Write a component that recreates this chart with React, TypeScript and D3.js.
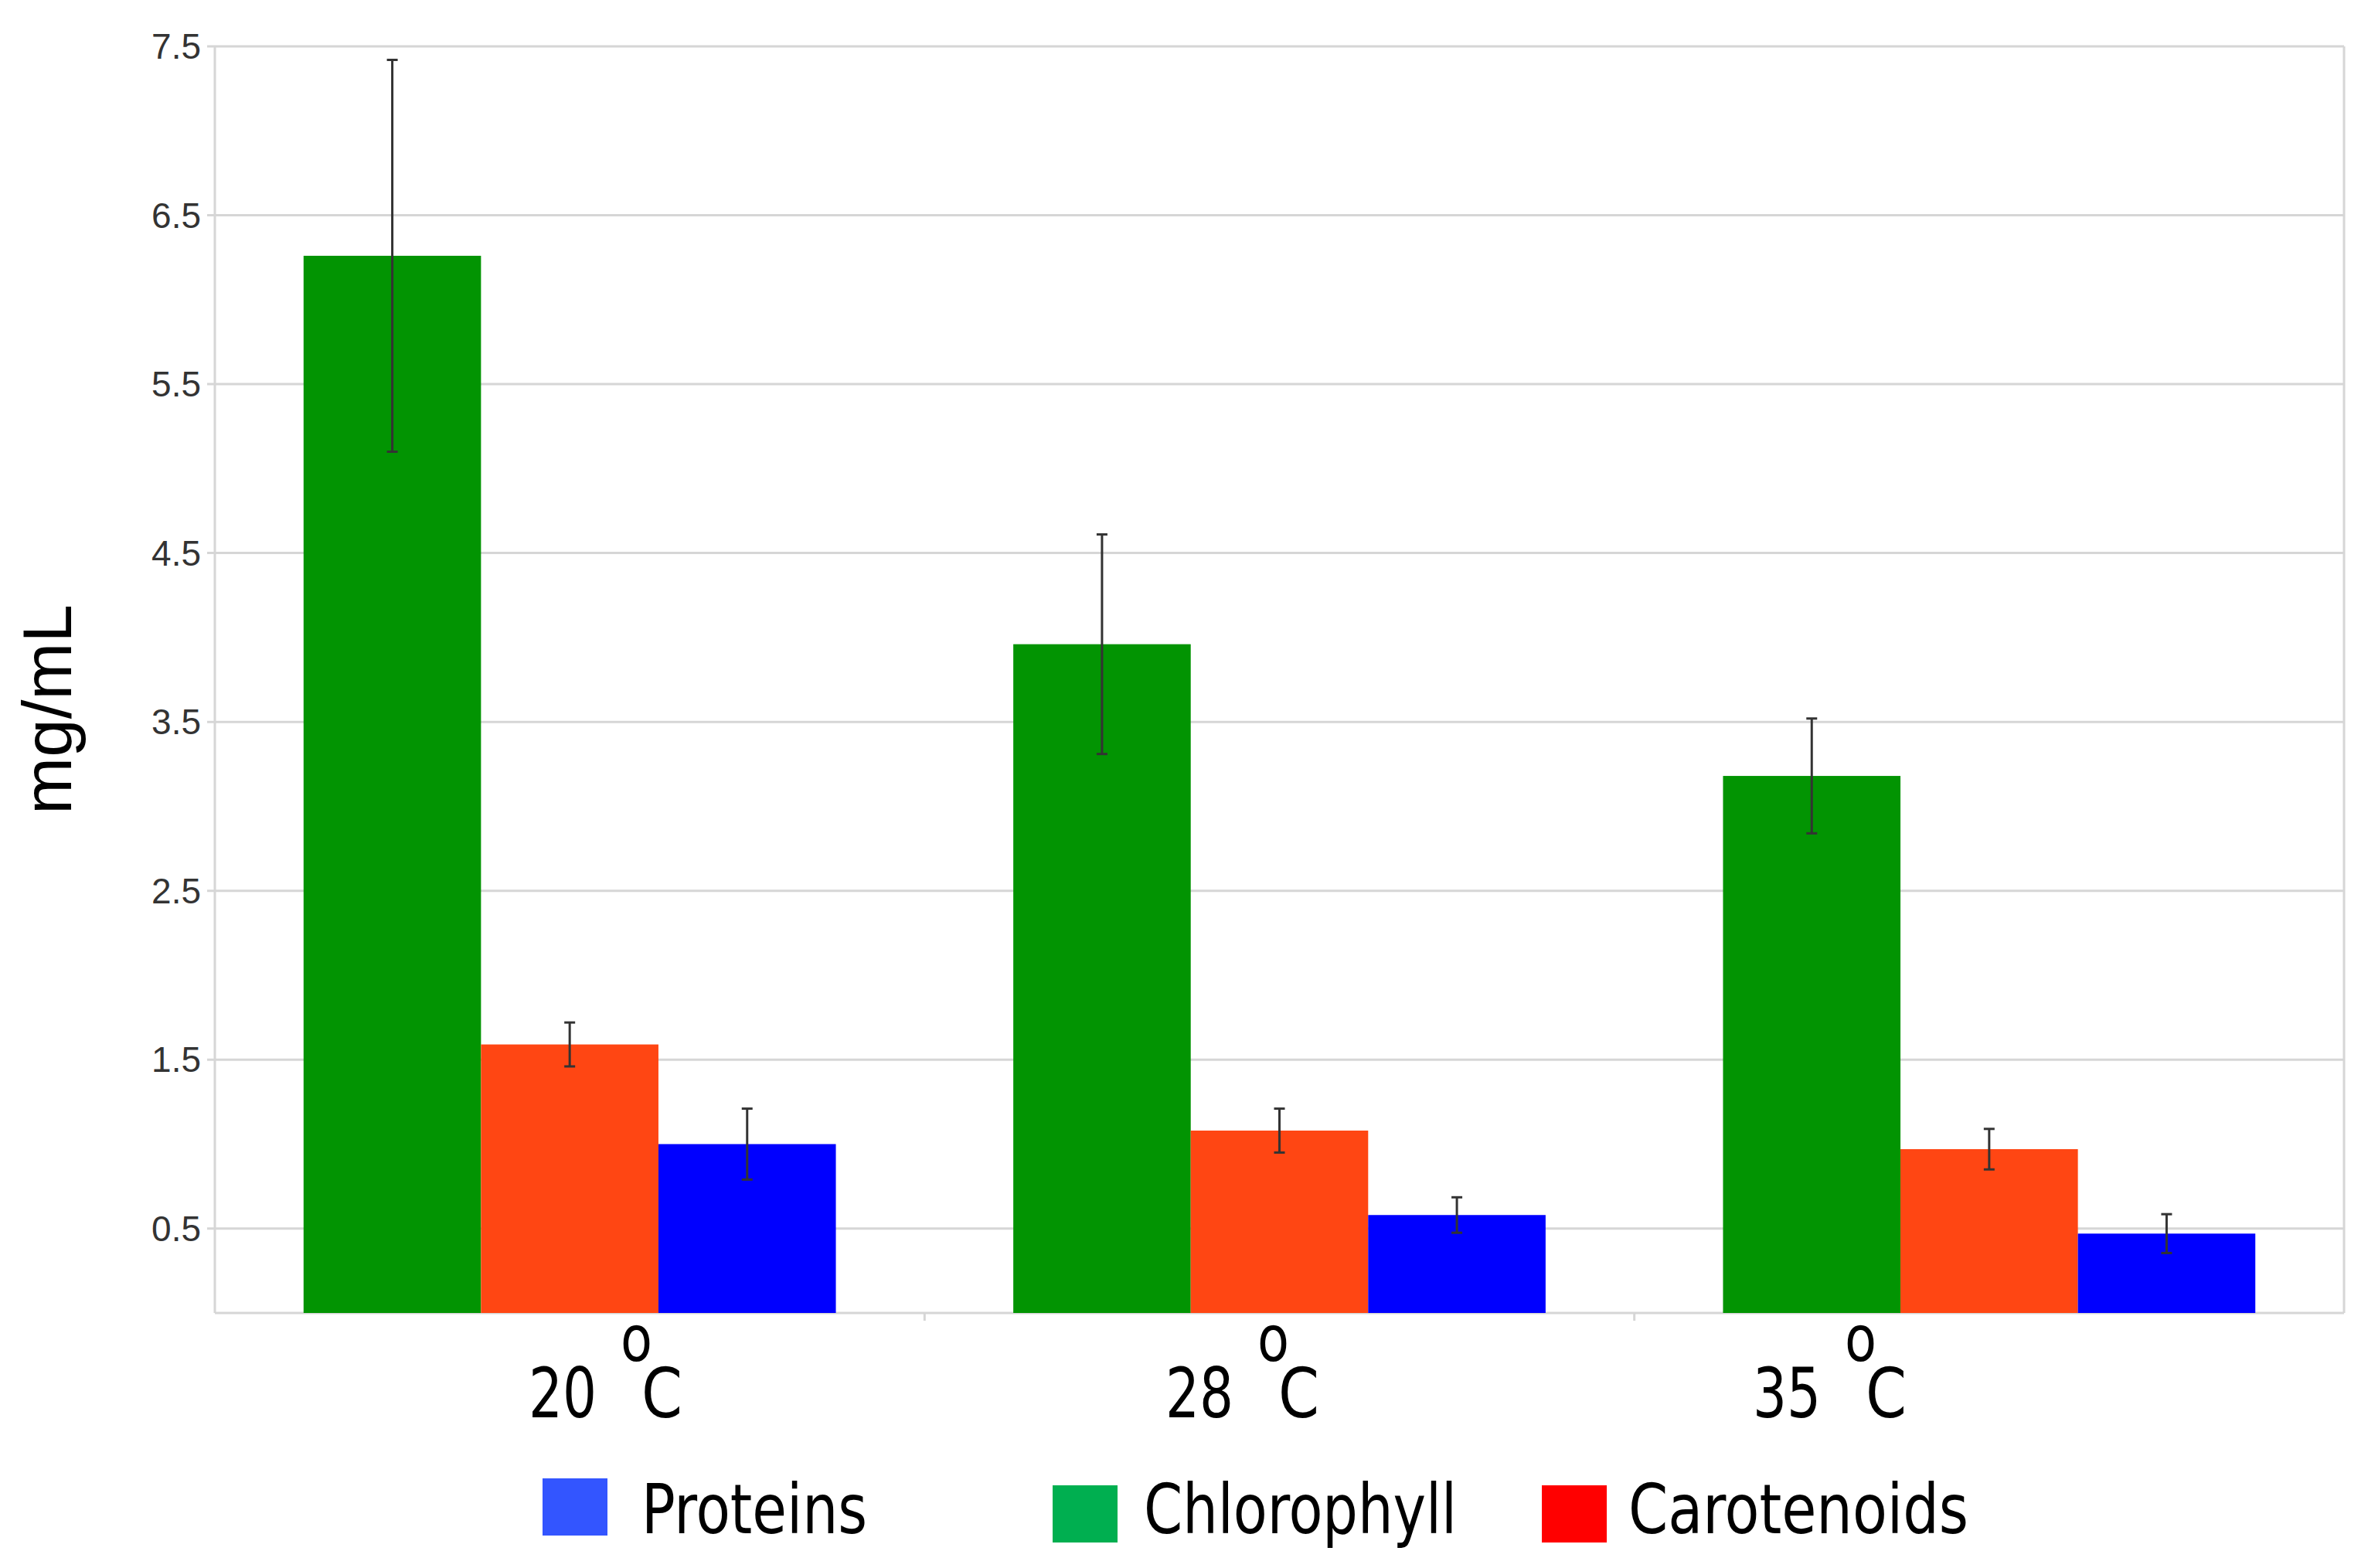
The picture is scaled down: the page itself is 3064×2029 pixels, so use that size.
import React from "react";
import * as d3 from "d3";

// ---- data ----
const categories = ["20", "28", "35"];
const seriesNames = ["Chlorophyll", "Carotenoids", "Proteins"];
const chlorophyll = [6.26, 3.96, 3.18];
const chlorophyllErr = [1.16, 0.65, 0.34];
const carotenoids = [1.59, 1.08, 0.97];
const carotenoidsErr = [0.13, 0.13, 0.12];
const proteins = [1.0, 0.58, 0.47];
const proteinsErr = [0.21, 0.105, 0.115];
const yTicks = [0.5, 1.5, 2.5, 3.5, 4.5, 5.5, 6.5, 7.5];
const legendNames = ["Proteins", "Chlorophyll", "Carotenoids"];

// ---- layout / style ----
const W = 3064;
const H = 2029;
const plot = { left: 278, right: 3033, top: 60, bottom: 1699 };
const barColors: Record<string, string> = {
  Chlorophyll: "#029402",
  Carotenoids: "#FF4613",
  Proteins: "#0000FF",
};
const legendColors: Record<string, string> = {
  Proteins: "#3355FF",
  Chlorophyll: "#00AF50",
  Carotenoids: "#FF0000",
};
const labelLeft = [684, 1508, 2268];
const legendLayout = [
  { sx: 702, sy: 1913, tx: 830, tw: 292 },
  { sx: 1362, sy: 1922, tx: 1480, tw: 405 },
  { sx: 1995, sy: 1922, tx: 2107, tw: 440 },
];
const gridColor = "#d6d6d6";
const labelFont = "'DejaVu Sans Condensed', 'DejaVu Sans', sans-serif";

export default function App() {
  const values: Record<string, number[]> = {
    Chlorophyll: chlorophyll,
    Carotenoids: carotenoids,
    Proteins: proteins,
  };
  const errs: Record<string, number[]> = {
    Chlorophyll: chlorophyllErr,
    Carotenoids: carotenoidsErr,
    Proteins: proteinsErr,
  };

  const x0 = d3
    .scaleBand<string>()
    .domain(categories)
    .range([plot.left, plot.right])
    .paddingInner(0.25)
    .paddingOuter(0.125);
  const x1 = d3
    .scaleBand<string>()
    .domain(seriesNames)
    .range([0, x0.bandwidth()])
    .padding(0);
  const y = d3.scaleLinear().domain([0, 7.5]).range([plot.bottom, plot.top]);

  const step = x0.step();
  const boundaries = [1, 2].map((i) => plot.left + step * i);

  return (
    <svg
      width={W}
      height={H}
      viewBox={`0 0 ${W} ${H}`}
      style={{ position: "absolute", left: 0, top: 0, background: "#fff" }}
    >
      <rect x={0} y={0} width={W} height={H} fill="#fff" />
      {/* grid */}
      {yTicks.map((t) => (
        <line
          key={"g" + t}
          x1={plot.left - 10}
          x2={plot.right}
          y1={y(t)}
          y2={y(t)}
          stroke={gridColor}
          strokeWidth={3}
        />
      ))}
      {/* frame */}
      <line x1={plot.left} x2={plot.left} y1={plot.top} y2={plot.bottom} stroke={gridColor} strokeWidth={3} />
      <line x1={plot.right} x2={plot.right} y1={plot.top} y2={plot.bottom} stroke={gridColor} strokeWidth={3} />
      <line x1={plot.left} x2={plot.right} y1={plot.bottom} y2={plot.bottom} stroke={gridColor} strokeWidth={3} />
      {boundaries.map((bx, i) => (
        <line key={"b" + i} x1={bx} x2={bx} y1={plot.bottom} y2={plot.bottom + 10} stroke={gridColor} strokeWidth={3} />
      ))}
      {/* y tick labels */}
      {yTicks.map((t) => (
        <text
          key={"t" + t}
          x={plot.left - 18}
          y={y(t)}
          dy="0.35em"
          textAnchor="end"
          fontFamily="'Liberation Sans', Arial, sans-serif"
          fontSize={46}
          fill="#333"
        >
          {t.toFixed(1)}
        </text>
      ))}
      {/* bars */}
      {categories.map((c, ci) =>
        seriesNames.map((s) => {
          const v = values[s][ci];
          const bx = (x0(c) as number) + (x1(s) as number);
          return (
            <rect
              key={c + s}
              x={bx}
              y={y(v)}
              width={x1.bandwidth()}
              height={y(0) - y(v)}
              fill={barColors[s]}
            />
          );
        })
      )}
      {/* error bars */}
      {categories.map((c, ci) =>
        seriesNames.map((s) => {
          const v = values[s][ci];
          const e = errs[s][ci];
          const cx = (x0(c) as number) + (x1(s) as number) + x1.bandwidth() / 2;
          return (
            <g key={"e" + c + s} stroke="#333" strokeWidth={3}>
              <line x1={cx} x2={cx} y1={y(v + e)} y2={y(v - e)} />
              <line x1={cx - 7} x2={cx + 7} y1={y(v + e)} y2={y(v + e)} />
              <line x1={cx - 7} x2={cx + 7} y1={y(v - e)} y2={y(v - e)} />
            </g>
          );
        })
      )}
      {/* x labels */}
      {categories.map((c, ci) => {
        const lx = labelLeft[ci];
        return (
          <text key={"xl" + c} fontFamily={labelFont} fill="#000" fontSize={89}>
            <tspan x={lx} y={1834} textLength={88} lengthAdjust="spacingAndGlyphs">
              {c}
            </tspan>
            <tspan
              x={lx + 119}
              y={1761}
              fontSize={82}
              fontFamily="'DejaVu Sans', sans-serif"
              textLength={41}
              lengthAdjust="spacingAndGlyphs"
            >
              o
            </tspan>
            <tspan x={lx + 146} y={1834} textLength={53} lengthAdjust="spacingAndGlyphs">
              C
            </tspan>
          </text>
        );
      })}
      {/* y axis title */}
      <text
        transform={`translate(92, 918) rotate(-90)`}
        textAnchor="middle"
        fontFamily="'Liberation Sans', Arial, sans-serif"
        fontSize={89}
        fill="#000"
      >
        mg/mL
      </text>
      {/* legend */}
      {legendNames.map((n, i) => {
        const L = legendLayout[i];
        return (
          <g key={"lg" + n}>
            <rect x={L.sx} y={L.sy} width={84} height={74} fill={legendColors[n]} />
            <text
              x={L.tx}
              y={1984}
              fontFamily={labelFont}
              fontSize={89}
              textLength={L.tw}
              lengthAdjust="spacingAndGlyphs"
              fill="#000"
            >
              {n}
            </text>
          </g>
        );
      })}
    </svg>
  );
}
